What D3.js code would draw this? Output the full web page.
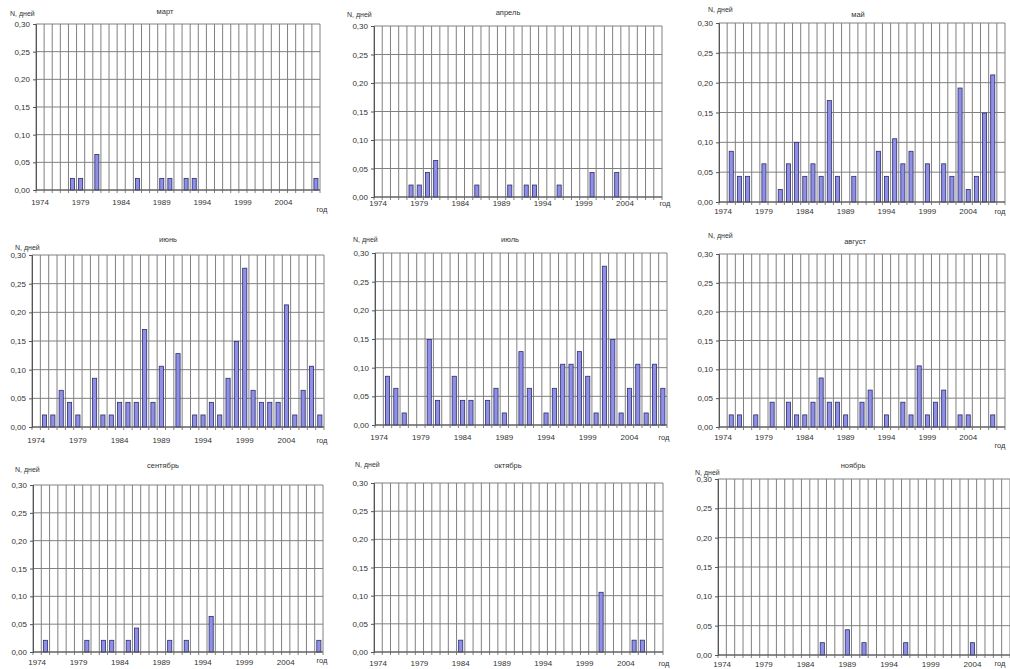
<!DOCTYPE html>
<html>
<head>
<meta charset="utf-8">
<script src="https://cdn.jsdelivr.net/npm/d3@7"></script>
<style>
  body { margin: 0; background: #fff; }
  svg text { font-family: "Liberation Sans", Arial, sans-serif; fill: #333; }
</style>
</head>
<body>
<div id="chart"></div>
<script>
// years on the category axis, 1974..2008
const years = d3.range(1974, 2009);
const yearLabels = [1974, 1979, 1984, 1989, 1994, 1999, 2004];
const yTicks = [0, 0.05, 0.10, 0.15, 0.20, 0.25, 0.30];
const months = ["март", "апрель", "май", "июнь", "июль", "август", "сентябрь", "октябрь", "ноябрь"];

// N, дней by year (index 0 = 1974)
const mar = [0,0,0,0,.021,.021,0,.064,0,0, 0,0,.021,0,0,.021,.021,0,.021,.021, 0,0,0,0,0,0,0,0,0,0, 0,0,0,0,.021];
const apr = [0,0,0,0,.021,.021,.043,.064,0,0, 0,0,.021,0,0,0,.021,0,.021,.021, 0,0,.021,0,0,0,.043,0,0,.043, 0,0,0,0,0];
const may = [0,.085,.043,.043,0,.064,0,.021,.064,.100, .043,.064,.043,.170,.043,0,.043,0,0,.085, .043,.106,.064,.085,0,.064,0,.064,.043,.191, .021,.043,.149,.213,0];
const jun = [0,.021,.021,.064,.043,.021,0,.085,.021,.021, .043,.043,.043,.170,.043,.106,0,.128,0,.021, .021,.043,.021,.085,.149,.277,.064,.043,.043,.043, .213,.021,.064,.106,.021];
const jul = [0,.085,.064,.021,0,0,.149,.043,0,.085, .043,.043,0,.043,.064,.021,0,.128,.064,0, .021,.064,.106,.106,.128,.085,.021,.277,.149,.021, .064,.106,.021,.106,.064];
const aug = [0,.021,.021,0,.021,0,.043,0,.043,.021, .021,.043,.085,.043,.043,.021,0,.043,.064,0, .021,0,.043,.021,.106,.021,.043,.064,0,.021, .021,0,0,.021,0];
const sep = [0,.021,0,0,0,0,.021,0,.021,.021, 0,.021,.043,0,0,0,.021,0,.021,0, 0,.064,0,0,0,0,0,0,0,0, 0,0,0,0,.021];
const oct = [0,0,0,0,0,0,0,0,0,0, .021,0,0,0,0,0,0,0,0,0, 0,0,0,0,0,0,0,.106,0,0, 0,.021,.021,0,0];
const nov = [0,0,0,0,0,0,0,0,0,0, 0,0,.021,0,0,.043,0,.021,0,0, 0,0,.021,0,0,0,0,0,0,0, .021,0,0,0,0];
const series = [mar, apr, may, jun, jul, aug, sep, oct, nov];

// where each small chart sits (plot box, title, axis captions)
const layout = [
  {l: 36,  t: 24,  r: 320,  b: 190, tx: 165, ty: 14,  nx: 10,  ny: 16,  lx: 205, gx: 322,  gy: 212},
  {l: 374, t: 26,  r: 662,  b: 197, tx: 508, ty: 15,  nx: 347, ny: 17,  lx: 206, gx: 665,  gy: 206},
  {l: 719, t: 23,  r: 1005, b: 202, tx: 858, ty: 17,  nx: 708, ny: 12,  lx: 214, gx: 1000, gy: 214},
  {l: 32,  t: 255, r: 324,  b: 427, tx: 168, ty: 242, nx: 15,  ny: 250, lx: 443, gx: 322,  gy: 443},
  {l: 375, t: 253, r: 667,  b: 425, tx: 510, ty: 242, nx: 353, ny: 242, lx: 440, gx: 664,  gy: 440},
  {l: 719, t: 254, r: 1005, b: 427, tx: 855, ty: 244, nx: 708, ny: 238, lx: 440, gx: 1000, gy: 448},
  {l: 33,  t: 485, r: 323,  b: 652, tx: 163, ty: 468, nx: 15,  ny: 472, lx: 665, gx: 322,  gy: 663},
  {l: 374, t: 483, r: 663,  b: 652, tx: 508, ty: 468, nx: 355, ny: 467, lx: 666, gx: 664,  gy: 666},
  {l: 718, t: 479, r: 1010, b: 655, tx: 853, ty: 468, nx: 695, ny: 475, lx: 667, gx: 1000, gy: 666}
];

const svg = d3.select("#chart").append("svg")
  .attr("width", 1010)
  .attr("height", 669);

const fmt = d => d.toFixed(2).replace(".", ",");

series.forEach((vals, i) => {
  const p = layout[i];
  const g = svg.append("g");

  const x = d3.scaleBand()
    .domain(years)
    .range([p.l, p.r])
    .paddingInner(0.5)
    .paddingOuter(0.25);
  const y = d3.scaleLinear().domain([0, 0.30]).range([p.b, p.t]);
  const step = x.step();

  // horizontal grid
  g.selectAll(".hg").data(yTicks).join("line")
    .attr("x1", p.l).attr("x2", p.r)
    .attr("y1", d => y(d)).attr("y2", d => y(d))
    .attr("stroke", "#808080").attr("stroke-width", 1);

  // vertical grid at category edges
  g.selectAll(".vg").data(d3.range(years.length + 1)).join("line")
    .attr("x1", k => p.l + k * step).attr("x2", k => p.l + k * step)
    .attr("y1", p.t).attr("y2", p.b + 3)
    .attr("stroke", "#808080").attr("stroke-width", 1);

  // bars
  g.selectAll("rect").data(vals.map((v, k) => ({year: years[k], v})).filter(d => d.v > 0))
    .join("rect")
    .attr("x", d => x(d.year))
    .attr("width", x.bandwidth())
    .attr("y", d => y(d.v))
    .attr("height", d => y(0) - y(d.v))
    .attr("fill", "#8f8fe6")
    .attr("stroke", "#2c2c70")
    .attr("stroke-width", 0.8);

  // y axis
  const ya = g.append("g")
    .attr("transform", `translate(${p.l},0)`)
    .call(d3.axisLeft(y).tickValues(yTicks).tickFormat(fmt).tickSize(3).tickPadding(3));
  ya.select(".domain").attr("stroke", "#555");
  ya.selectAll(".tick line").attr("stroke", "#555");
  ya.selectAll("text").style("font-size", "8px").attr("fill", "#333");

  // x axis line
  g.append("line")
    .attr("x1", p.l).attr("x2", p.r)
    .attr("y1", y(0)).attr("y2", y(0))
    .attr("stroke", "#555");

  // year labels
  g.selectAll(".yl").data(yearLabels).join("text")
    .attr("x", d => x(d) + x.bandwidth() / 2)
    .attr("y", p.lx)
    .attr("text-anchor", "middle")
    .style("font-size", "8px")
    .text(d => d);

  g.append("text")
    .attr("x", p.gx).attr("y", p.gy)
    .attr("text-anchor", "middle")
    .style("font-size", "7.5px")
    .text("год");

  g.append("text")
    .attr("x", p.nx).attr("y", p.ny)
    .style("font-size", "7px")
    .text("N, дней");

  g.append("text")
    .attr("x", p.tx).attr("y", p.ty)
    .attr("text-anchor", "middle")
    .style("font-size", "7.5px")
    .text(months[i]);
});
</script>
</body>
</html>
